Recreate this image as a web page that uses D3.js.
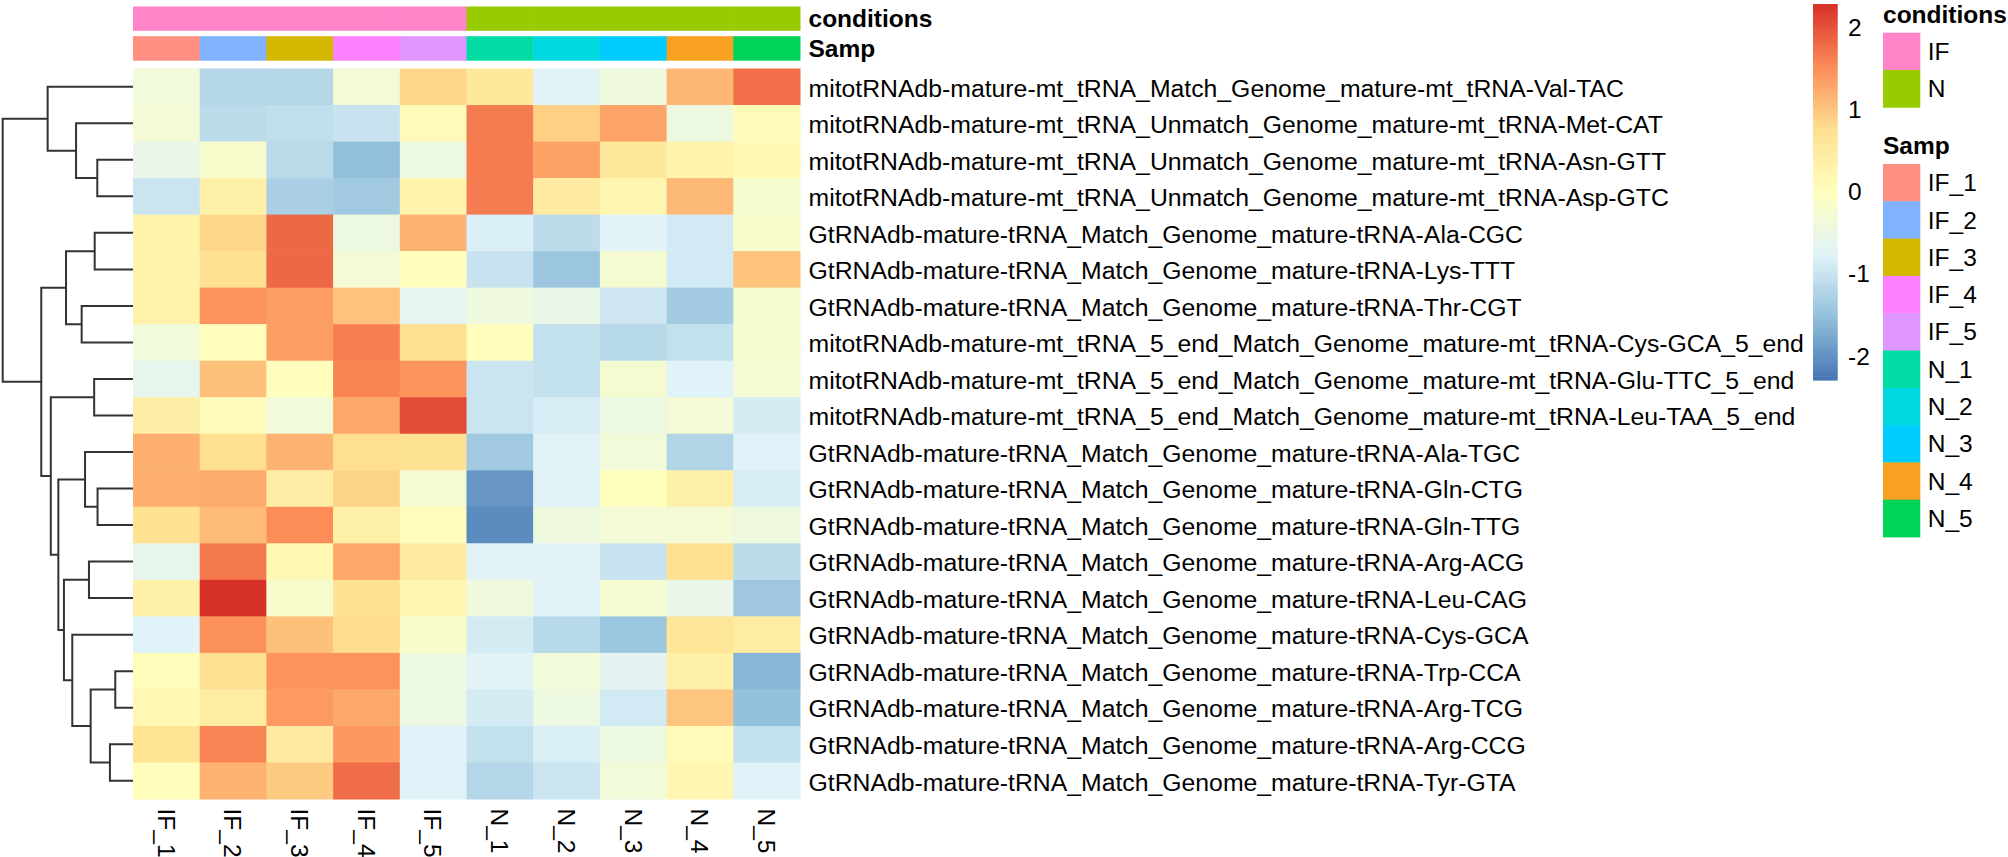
<!DOCTYPE html>
<html>
<head>
<meta charset="utf-8">
<script src="https://cdn.jsdelivr.net/npm/d3@7"></script>
<style>
  html, body { margin: 0; padding: 0; background: #fff; }
  svg { display: block; }
  text { font-family: "Liberation Sans", Arial, Helvetica, sans-serif; fill: #000; }
</style>
</head>
<body>
<svg id="chart" width="2008" height="857"></svg>
<script>
// ---------------- DATA ----------------
const samples = ["IF_1","IF_2","IF_3","IF_4","IF_5","N_1","N_2","N_3","N_4","N_5"];
const conditionOf = ["IF","IF","IF","IF","IF","N","N","N","N","N"];
const conditionLevels = ["IF","N"];
const conditionColors = ["#FF84C8","#99CC00"];
const sampleColors = ["#FF8F80","#80B2FF","#D4B800","#FF80FF","#E096FF",
                      "#00DCA4","#00D8E0","#00CCFF","#F8A020","#00D458"];

const rowLabels = [
  "mitotRNAdb-mature-mt_tRNA_Match_Genome_mature-mt_tRNA-Val-TAC",
  "mitotRNAdb-mature-mt_tRNA_Unmatch_Genome_mature-mt_tRNA-Met-CAT",
  "mitotRNAdb-mature-mt_tRNA_Unmatch_Genome_mature-mt_tRNA-Asn-GTT",
  "mitotRNAdb-mature-mt_tRNA_Unmatch_Genome_mature-mt_tRNA-Asp-GTC",
  "GtRNAdb-mature-tRNA_Match_Genome_mature-tRNA-Ala-CGC",
  "GtRNAdb-mature-tRNA_Match_Genome_mature-tRNA-Lys-TTT",
  "GtRNAdb-mature-tRNA_Match_Genome_mature-tRNA-Thr-CGT",
  "mitotRNAdb-mature-mt_tRNA_5_end_Match_Genome_mature-mt_tRNA-Cys-GCA_5_end",
  "mitotRNAdb-mature-mt_tRNA_5_end_Match_Genome_mature-mt_tRNA-Glu-TTC_5_end",
  "mitotRNAdb-mature-mt_tRNA_5_end_Match_Genome_mature-mt_tRNA-Leu-TAA_5_end",
  "GtRNAdb-mature-tRNA_Match_Genome_mature-tRNA-Ala-TGC",
  "GtRNAdb-mature-tRNA_Match_Genome_mature-tRNA-Gln-CTG",
  "GtRNAdb-mature-tRNA_Match_Genome_mature-tRNA-Gln-TTG",
  "GtRNAdb-mature-tRNA_Match_Genome_mature-tRNA-Arg-ACG",
  "GtRNAdb-mature-tRNA_Match_Genome_mature-tRNA-Leu-CAG",
  "GtRNAdb-mature-tRNA_Match_Genome_mature-tRNA-Cys-GCA",
  "GtRNAdb-mature-tRNA_Match_Genome_mature-tRNA-Trp-CCA",
  "GtRNAdb-mature-tRNA_Match_Genome_mature-tRNA-Arg-TCG",
  "GtRNAdb-mature-tRNA_Match_Genome_mature-tRNA-Arg-CCG",
  "GtRNAdb-mature-tRNA_Match_Genome_mature-tRNA-Tyr-GTA"
];

// scaled values, one array per row (columns follow `samples`)
const values = [
  [-0.35,-1.19,-1.18,-0.30, 0.85, 0.56,-0.75,-0.40, 1.14, 1.76],
  [-0.30,-1.10,-1.08,-1.00, 0.12, 1.66, 0.90, 1.30,-0.45, 0.10],
  [-0.55,-0.18,-1.13,-1.52,-0.45, 1.66, 1.33, 0.56, 0.30, 0.15],
  [-0.97, 0.37,-1.29,-1.37, 0.28, 1.66, 0.48, 0.22, 1.11,-0.20],
  [ 0.32, 0.84, 1.82,-0.45, 1.16,-0.82,-1.10,-0.75,-0.90,-0.18],
  [ 0.32, 0.72, 1.82,-0.30, 0.02,-1.00,-1.42,-0.25,-0.90, 1.03],
  [ 0.32, 1.46, 1.37, 1.02,-0.65,-0.40,-0.55,-0.95,-1.35,-0.22],
  [-0.35, 0.04, 1.37, 1.63, 0.76, 0.03,-1.05,-1.16,-1.05,-0.22],
  [-0.60, 1.04, 0.03, 1.58, 1.45,-0.98,-1.05,-0.25,-0.77,-0.28],
  [ 0.42, 0.08,-0.35, 1.27, 2.05,-0.98,-0.85,-0.45,-0.30,-0.87],
  [ 1.21, 0.76, 1.16, 0.76, 0.70,-1.37,-0.75,-0.35,-1.22,-0.76],
  [ 1.21, 1.24, 0.42, 0.87,-0.25,-1.95,-0.75, 0.00, 0.37,-0.85],
  [ 0.72, 1.10, 1.52, 0.37, 0.04,-2.06,-0.42,-0.30,-0.30,-0.42],
  [-0.60, 1.69, 0.18, 1.27, 0.50,-0.75,-0.75,-1.00, 0.76,-1.10],
  [ 0.37, 2.28,-0.18, 0.72, 0.22,-0.40,-0.75,-0.25,-0.55,-1.39],
  [-0.76, 1.48, 1.04, 0.78,-0.18,-0.88,-1.15,-1.43, 0.62, 0.47],
  [ 0.04, 0.72, 1.46, 1.46,-0.45,-0.75,-0.35,-0.70, 0.37,-1.62],
  [ 0.20, 0.47, 1.40, 1.27,-0.45,-0.88,-0.45,-0.90, 1.00,-1.50],
  [ 0.68, 1.60, 0.50, 1.42,-0.76,-1.05,-0.82,-0.45, 0.12,-1.05],
  [ 0.03, 1.18, 0.96, 1.78,-0.76,-1.19,-0.98,-0.35, 0.22,-0.76]
];

// row dendrogram, hclust-style merges: negative = leaf (1-based row), positive = earlier merge
const mergeLeft   = [-17,-19,-12,-3,-5,-9, 1,-14,-11,-7,-2,-16, 5, 8, 9, 6,-1,13,17];
const mergeRight  = [-18,-20,-13,-4,-6,-10,2,-15, 3,-8, 4, 7,10,12,14,15,11,16,18];
const mergeHeight = [1.36,1.77,2.72,2.74,2.94,2.98,3.25,3.38,3.68,3.94,4.37,4.66,5.14,5.30,5.73,6.31,6.55,7.04,10.0];

const paletteColors = ["#4575B4","#91BFDB","#E0F3F8","#FFFFBF","#FEE090","#FC8D59","#D73027"];
const colorMin = -2.29, colorMax = 2.28;
const legendTicks = [-2,-1,0,1,2];

// ---------------- LAYOUT ----------------
const FS = 24.5;
const hmLeft = 133, hmRight = 800, hmTop = 68.5, hmBottom = 799;
const svg = d3.select("#chart");

const x = d3.scaleBand().domain(samples).range([hmLeft, hmRight]);
const y = d3.scaleBand().domain(d3.range(rowLabels.length)).range([hmTop, hmBottom]);

const stops = d3.range(paletteColors.length).map(i => colorMin + i*(colorMax-colorMin)/(paletteColors.length-1));
const color = d3.scaleLinear().domain(stops).range(paletteColors).interpolate(d3.interpolateRgb).clamp(true);

// heatmap cells
const cells = [];
values.forEach((row, r) => row.forEach((v, c) => cells.push({r, c, v})));
svg.append("g").selectAll("rect").data(cells).join("rect")
  .attr("x", d => x(samples[d.c]))
  .attr("y", d => y(d.r))
  .attr("width", x.bandwidth() + 0.5)
  .attr("height", y.bandwidth() + 0.5)
  .attr("fill", d => color(d.v));

// annotation bars
const annTracks = [
  {name: "conditions", y0: 6.5, h: 24.3, fill: i => conditionColors[conditionLevels.indexOf(conditionOf[i])]},
  {name: "Samp", y0: 36.2, h: 24.5, fill: i => sampleColors[i]}
];
annTracks.forEach(t => {
  svg.append("g").selectAll("rect").data(samples).join("rect")
    .attr("x", d => x(d))
    .attr("y", t.y0)
    .attr("width", x.bandwidth() + 0.5)
    .attr("height", t.h)
    .attr("fill", (d, i) => t.fill(i));
  svg.append("text")
    .attr("x", hmRight + 8.5)
    .attr("y", t.y0 + t.h/2 + 8.5)
    .attr("font-size", FS).attr("font-weight", "bold")
    .text(t.name);
});

// row labels
svg.append("g").selectAll("text").data(rowLabels).join("text")
  .attr("transform", (d, i) => `translate(${hmRight + 8.5},${y(i) + y.bandwidth()/2 + 0.4*FS}) scale(1.012,1)`)
  .attr("font-size", FS)
  .text(d => d);

// column labels (rotated, top-to-bottom)
svg.append("g").selectAll("text").data(samples).join("text")
  .attr("transform", d => `translate(${x(d) + x.bandwidth()/2 - 0.357*FS},${hmBottom + 9.5}) rotate(90)`)
  .attr("font-size", FS)
  .text(d => d);

// dendrogram
const dx = d3.scaleLinear().domain([0, d3.max(mergeHeight)]).range([hmLeft, 2.7]);
const nodePos = [];
function pos(id) {
  if (id < 0) return {x: hmLeft, y: y(-id-1) + y.bandwidth()/2};
  return nodePos[id-1];
}
const segs = [];
mergeLeft.forEach((l, k) => {
  const a = pos(l), b = pos(mergeRight[k]);
  const nx = dx(mergeHeight[k]);
  segs.push([[a.x, a.y],[nx, a.y],[nx, b.y],[b.x, b.y]]);
  nodePos.push({x: nx, y: (a.y + b.y)/2});
});
svg.append("g").selectAll("path").data(segs).join("path")
  .attr("d", d => d3.line()(d))
  .attr("fill", "none")
  .attr("stroke", "#333")
  .attr("stroke-width", 2);

// colour legend
const legX = 1813, legW = 24.7, legTop = 4, legBottom = 380;
const ly = d3.scaleLinear().domain([colorMin, colorMax]).range([legBottom, legTop]);
const nSteps = 100;
const stepVals = d3.range(nSteps).map(i => colorMin + (i + 0.5)*(colorMax-colorMin)/nSteps);
svg.append("g").selectAll("rect").data(stepVals).join("rect")
  .attr("x", legX)
  .attr("y", d => ly(d + (colorMax-colorMin)/nSteps/2))
  .attr("width", legW)
  .attr("height", (legBottom-legTop)/nSteps + 0.6)
  .attr("fill", d => color(d));
svg.append("g").selectAll("text").data(legendTicks).join("text")
  .attr("x", 1848)
  .attr("y", d => ly(d) + 8.5)
  .attr("font-size", FS)
  .text(d => d);

// annotation legends
const boxX = 1883, boxW = 37.3, boxH = 37.3;
function annLegend(title, titleBase, top, labels, cols) {
  svg.append("text").attr("x", boxX).attr("y", titleBase)
    .attr("font-size", FS).attr("font-weight", "bold").text(title);
  svg.append("g").selectAll("rect").data(labels).join("rect")
    .attr("x", boxX).attr("y", (d, i) => top + i*boxH)
    .attr("width", boxW).attr("height", boxH + 0.4)
    .attr("fill", (d, i) => cols[i]);
  svg.append("g").selectAll("text").data(labels).join("text")
    .attr("x", boxX + boxW + 7.5)
    .attr("y", (d, i) => top + i*boxH + boxH/2 + 8.6)
    .attr("font-size", FS).text(d => d);
}
annLegend("conditions", 22.7, 32.7, conditionLevels, conditionColors);
annLegend("Samp", 154, 164, samples, sampleColors);
</script>
</body>
</html>
